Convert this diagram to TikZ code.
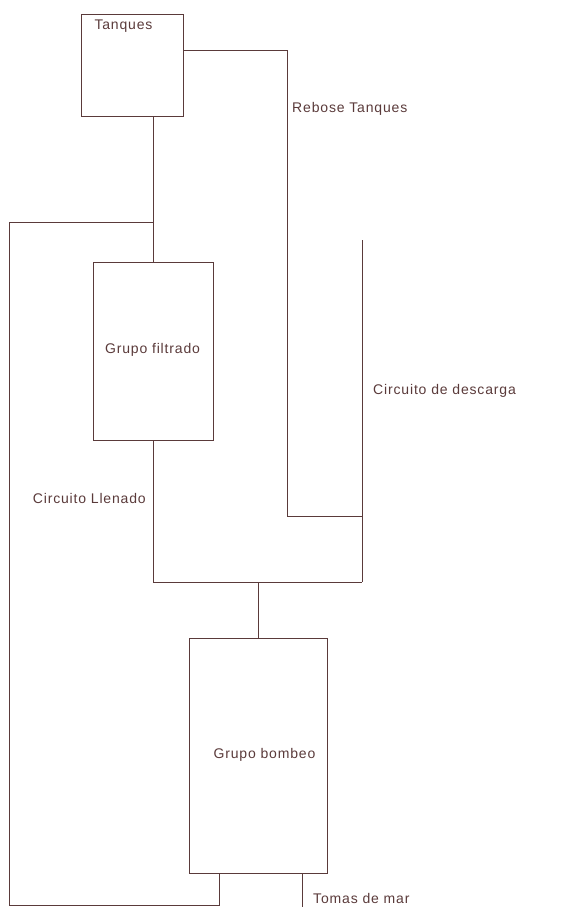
\documentclass[tikz,border=0pt]{standalone}
\usepackage{fontspec}
\setmainfont[LetterSpace=6]{Liberation Sans}
\definecolor{ink}{HTML}{5A3A3A}
\begin{document}
\begin{tikzpicture}[x=1pt,y=-1pt,
  box/.style={draw=ink,line width=0.9pt,inner sep=0pt,rectangle},
  pipe/.style={draw=ink,line width=0.9pt},
  lbl/.style={text=ink,font=\fontsize{14}{16}\selectfont,inner sep=0pt}]
\useasboundingbox (0,0) rectangle (567,907);
% boxes
\node[box,minimum width=101.5pt,minimum height=102.5pt] (tq) at (132.25,65.25) {};
\node[box,minimum width=120pt,minimum height=178pt] (fil) at (153.3,351) {};
\node[box,minimum width=137.7pt,minimum height=235pt] (bom) at (258.2,756.2) {};
% labels
\node[lbl] (ttq) at (123.5,26) {Tanques};
\node[lbl] (tfil) at (152.5,350) {Grupo filtrado};
\node[lbl] (tbom) at (264.5,755) {Grupo bombeo};
\node[lbl,anchor=west] (treb) at (292,109) {Rebose Tanques};
\node[lbl,anchor=west] (tdes) at (373,391) {Circuito de descarga};
\node[lbl,anchor=east] (tlle) at (146,498) {Circuito Llenado};
\node[lbl,anchor=west] (ttom) at (313,898) {Tomas de mar};
% coordinates
\coordinate (r1) at (287,50.5);
\coordinate (r2) at (287,516.7);
\coordinate (d1) at (362,240);
\coordinate (d2) at (362,516.7);
\coordinate (d3) at (362,582.3);
\coordinate (j1) at (153.5,222.5);
\coordinate (l1) at (9.3,222.5);
\coordinate (l2) at (9.3,905.7);
\coordinate (l3) at (219,905.7);
\coordinate (j2) at (258,582.3);
\coordinate (f2) at (153.5,582.3);
\coordinate (m1) at (302,907);
% connectors
\draw[pipe] (tq.east |- r1) -- (r1) -- (r2) -- (d2);
\draw[pipe] (d1) -- (d3);
\draw[pipe] (tq.south -| j1) -- (j1) -- (fil.north -| j1);
\draw[pipe] (j1) -- (l1) -- (l2) -- (l3) -- (bom.south -| l3);
\draw[pipe] (fil.south -| f2) -- (f2) -- (d3);
\draw[pipe] (j2) -- (bom.north -| j2);
\draw[pipe] (bom.south -| m1) -- (m1);
\end{tikzpicture}
\end{document}
